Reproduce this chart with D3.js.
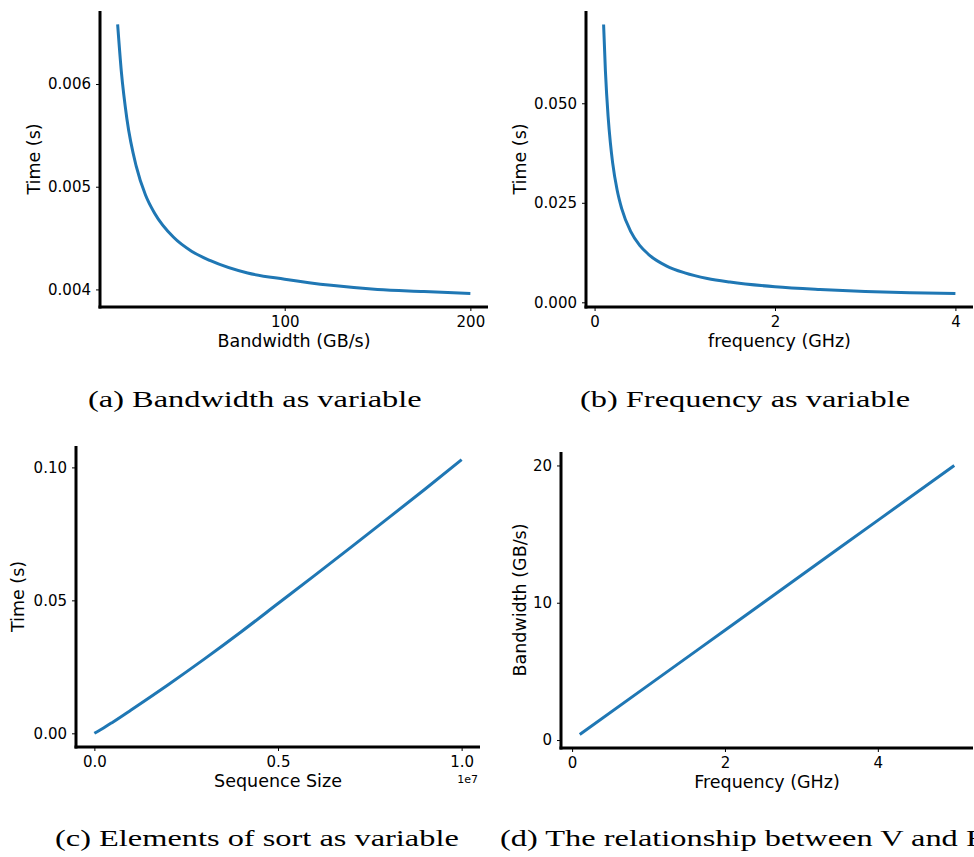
<!DOCTYPE html>
<html>
<head>
<meta charset="utf-8">
<script src="https://cdn.jsdelivr.net/npm/d3@7"></script>
<style>
  body { margin: 0; background: #fff; }
  svg { display: block; }
  .tick text { font-family: "DejaVu Sans", sans-serif; font-size: 15px; fill: #000; }
  .axis-label { font-family: "DejaVu Sans", sans-serif; font-size: 17.5px; fill: #000; }
  .caption { font-family: "Liberation Serif", "Times New Roman", serif; font-size: 24px; fill: #000; }
</style>
</head>
<body>
<div id="chart"></div>
<script>
const width = 974;
const height = 857;
const lineBlue = '#1f77b4';

// (a) bandwidth as variable
const bandwidthGBs = [10, 12, 15, 20, 25, 30, 40, 50, 60, 80, 100, 125, 150, 175, 200];
const timeVsBandwidth = [0.00658, 0.00612, 0.00566, 0.00520, 0.00492, 0.00474, 0.00451, 0.00437,
    0.00428, 0.00416, 0.00410, 0.00404, 0.00400, 0.00398, 0.00396];

// (b) frequency as variable
const frequencyGHz = [0.1, 0.12, 0.15, 0.175, 0.2, 0.25, 0.3, 0.4, 0.5, 0.6, 0.8, 1.0, 1.25, 1.5,
    2.0, 2.5, 3.0, 3.5, 4.0];
const timeVsFrequency = [0.0698, 0.0582, 0.0467, 0.0401, 0.0351, 0.0282, 0.0236, 0.0178, 0.0143,
    0.0120, 0.0091, 0.0074, 0.0060, 0.0051, 0.0039, 0.0032, 0.0027, 0.0024, 0.0022];

// (c) elements of sort
const sequenceSize = [0, 2.5e5, 5e5, 1e6, 2e6, 3e6, 4e6, 5e6, 6e6, 7e6, 8e6, 9e6, 1e7];
const timeVsSize = [0, 0.0020, 0.0042, 0.0088, 0.0182, 0.0280, 0.0382, 0.0488, 0.0594, 0.0701,
    0.0809, 0.0918, 0.1029];

// (d) bandwidth vs frequency
const coreFrequencyGHz = [0.1, 1, 2, 3, 4, 5];
const bandwidthVsFrequency = [0.4, 4, 8, 12, 16, 20];

// tick values
const ticksA = { x: [100, 200], y: [0.004, 0.005, 0.006] };
const ticksB = { x: [0, 2, 4], y: [0, 0.025, 0.05] };
const ticksC = { x: [0, 5e6, 1e7], y: [0, 0.05, 0.10] };
const ticksD = { x: [0, 2, 4], y: [0, 10, 20] };

const captions = [
    { text: '(a) Bandwidth as variable', x: 88, y: 407 },
    { text: '(b) Frequency as variable', x: 580, y: 407 },
    { text: '(c) Elements of sort as variable', x: 55, y: 846 },
    { text: '(d) The relationship between V and F', x: 500, y: 846 }
];

const svg = d3.select('#chart')
    .append('svg')
    .attr('width', width)
    .attr('height', height);

svg.append('rect')
    .attr('width', width)
    .attr('height', height)
    .attr('fill', '#fff');

// matplotlib style 5% margin on the data extent
function padded(values) {
    const [lo, hi] = d3.extent(values);
    const m = (hi - lo) * 0.05;
    return [lo - m, hi + m];
}

function drawPanel(opt) {
    const x = d3.scaleLinear().domain(padded(opt.xs)).range([opt.left, opt.right]);
    const y = d3.scaleLinear().domain(padded(opt.ys)).range([opt.bottom, opt.top]);

    const g = svg.append('g');

    const xAxis = g.append('g')
        .attr('transform', `translate(0, ${opt.bottom})`)
        .call(d3.axisBottom(x).tickValues(opt.ticks.x).tickFormat(opt.xFormat)
            .tickSize(4).tickPadding(5.5));
    const yAxis = g.append('g')
        .attr('transform', `translate(${opt.left}, 0)`)
        .call(d3.axisLeft(y).tickValues(opt.ticks.y).tickFormat(opt.yFormat)
            .tickSize(4).tickPadding(5));
    xAxis.select('.domain').remove();
    yAxis.select('.domain').remove();
    g.selectAll('.tick line').attr('stroke', '#000').attr('stroke-width', 1);
    g.selectAll('.tick text').attr('font-family', null).attr('font-size', null);

    // spines
    g.append('line')
        .attr('x1', opt.left).attr('x2', opt.left)
        .attr('y1', opt.top).attr('y2', opt.bottom + 1.5)
        .attr('stroke', '#000').attr('stroke-width', 3);
    g.append('line')
        .attr('x1', opt.left - 1.5).attr('x2', opt.right)
        .attr('y1', opt.bottom).attr('y2', opt.bottom)
        .attr('stroke', '#000').attr('stroke-width', 3);

    const line = d3.line()
        .x((d) => x(d[0]))
        .y((d) => y(d[1]))
        .curve(d3.curveMonotoneX);

    g.append('path')
        .datum(d3.zip(opt.xs, opt.ys))
        .attr('d', line)
        .attr('fill', 'none')
        .attr('stroke', lineBlue)
        .attr('stroke-width', 3);

    g.append('text')
        .attr('class', 'axis-label')
        .attr('x', (opt.left + opt.right) / 2)
        .attr('y', opt.bottom + 40)
        .attr('text-anchor', 'middle')
        .text(opt.xLabel);

    g.append('text')
        .attr('class', 'axis-label')
        .attr('transform', `translate(${opt.yLabelX}, ${(opt.top + opt.bottom) / 2}) rotate(-90)`)
        .attr('text-anchor', 'middle')
        .text(opt.yLabel);

    if (opt.offsetText) {
        g.append('text')
            .attr('x', opt.right - 2)
            .attr('y', opt.bottom + 36)
            .attr('text-anchor', 'end')
            .attr('font-family', 'DejaVu Sans, sans-serif')
            .attr('font-size', 11)
            .text(opt.offsetText);
    }
}

drawPanel({
    xs: bandwidthGBs, ys: timeVsBandwidth, ticks: ticksA,
    left: 100, right: 488, top: 11, bottom: 307,
    xFormat: d3.format('d'), yFormat: d3.format('.3f'),
    xLabel: 'Bandwidth (GB/s)', yLabel: 'Time (s)', yLabelX: 40
});

drawPanel({
    xs: frequencyGHz, ys: timeVsFrequency, ticks: ticksB,
    left: 586, right: 973, top: 11, bottom: 307,
    xFormat: d3.format('d'), yFormat: d3.format('.3f'),
    xLabel: 'frequency (GHz)', yLabel: 'Time (s)', yLabelX: 526
});

drawPanel({
    xs: sequenceSize, ys: timeVsSize, ticks: ticksC,
    left: 76, right: 480, top: 446, bottom: 747,
    xFormat: (d) => (d / 1e7).toFixed(1), yFormat: d3.format('.2f'),
    xLabel: 'Sequence Size', yLabel: 'Time (s)', yLabelX: 24,
    offsetText: '1e7'
});

drawPanel({
    xs: coreFrequencyGHz, ys: bandwidthVsFrequency, ticks: ticksD,
    left: 561, right: 973, top: 452, bottom: 748,
    xFormat: d3.format('d'), yFormat: d3.format('d'),
    xLabel: 'Frequency (GHz)', yLabel: 'Bandwidth (GB/s)', yLabelX: 526
});

// subfigure captions (wide serif face, stretched horizontally)
const stretch = 1.35;
svg.selectAll('.caption')
    .data(captions)
    .enter()
    .append('text')
    .attr('class', 'caption')
    .attr('transform', (d) => `translate(${d.x}, ${d.y}) scale(${stretch}, 1)`)
    .text((d) => d.text);
</script>
</body>
</html>
